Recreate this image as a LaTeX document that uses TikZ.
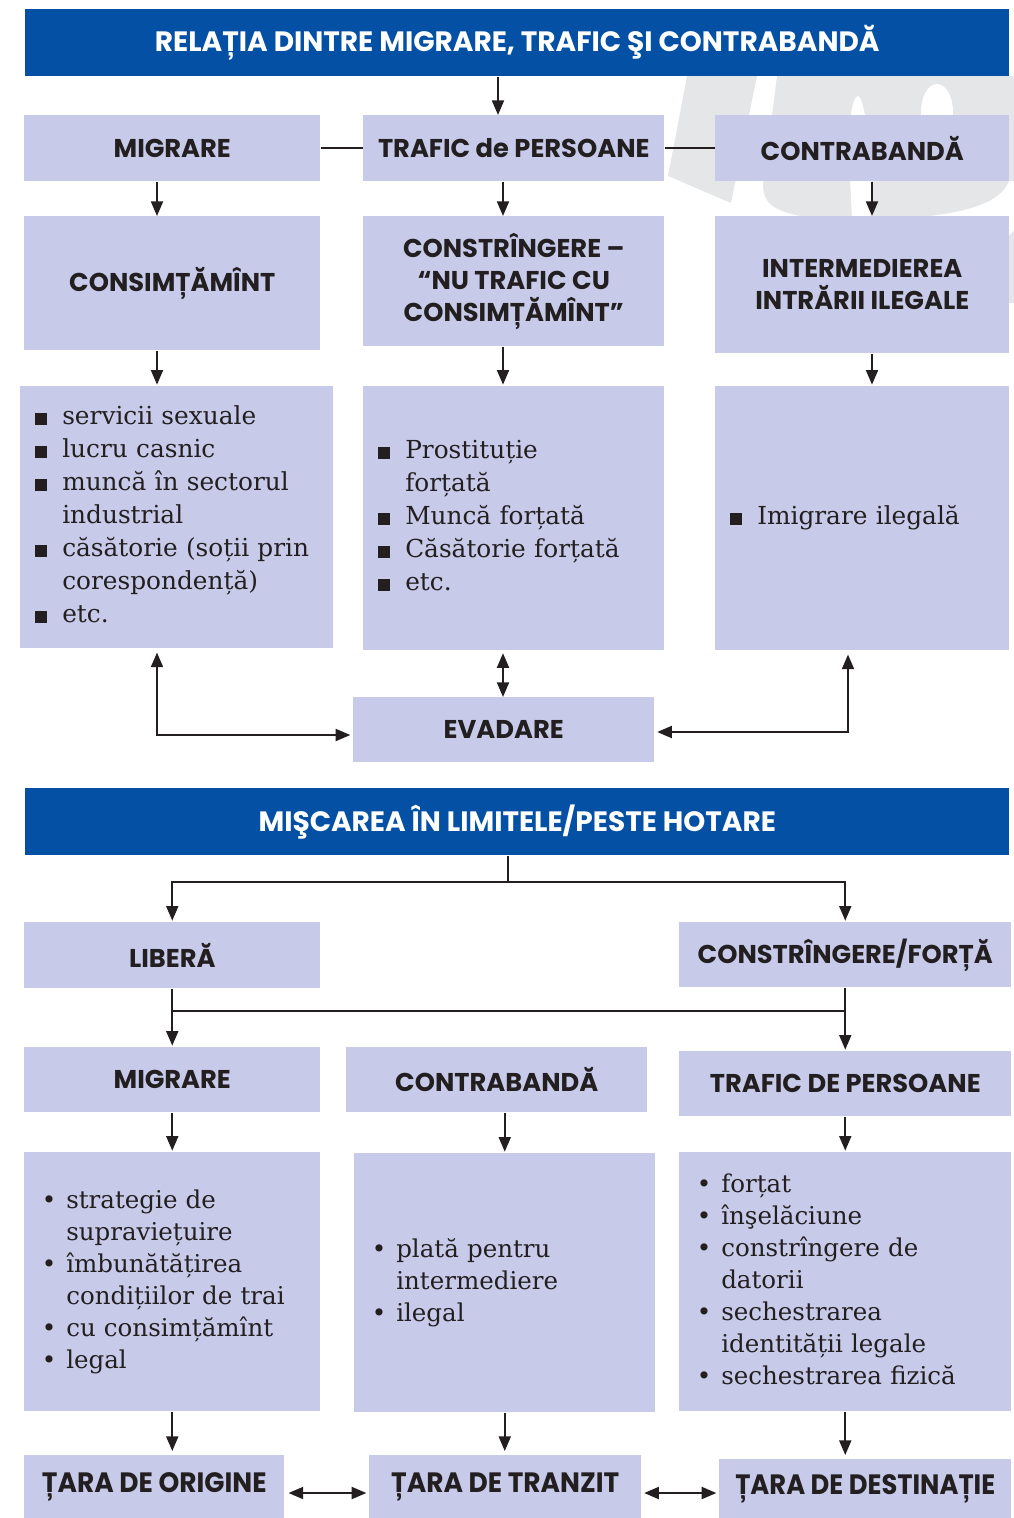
\documentclass[tikz,border=0pt]{standalone}
\usepackage{fontspec}
\usetikzlibrary{arrows.meta,calc}
\newfontfamily\hdfont{Poppins}
\newfontfamily\bodyfont{DejaVu Serif}
\definecolor{boxfill}{RGB}{199,203,233}
\definecolor{barblue}{RGB}{4,80,164}
\definecolor{ink}{RGB}{35,31,32}
\definecolor{wmgrey}{RGB}{229,230,232}
\newcommand\bx[7]{%
  \pgfmathsetmacro\bw{(#4-#2)*0.75}\pgfmathsetmacro\bh{(#5-#3)*0.75}%
  \node[#6, anchor=north west, minimum width=\bw pt, minimum height=\bh pt] (#1) at (#2,#3) {#7};}
\newcommand\sqb{\rule{9pt}{9pt}}
\newcommand\rb{\hspace*{-2.5pt}\textbullet}
\begin{document}
\begin{tikzpicture}[x=0.75pt,y=-0.75pt,
  box/.style={fill=boxfill, inner sep=0pt, text=ink, align=center,
    font=\hdfont\bfseries\fontsize{19.3}{24}\selectfont},
  bar/.style={fill=barblue, inner sep=0pt, text=white, align=center,
    font=\hdfont\bfseries\fontsize{21}{24}\selectfont},
  cbox/.style={box, font=\hdfont\bfseries\fontsize{21}{24}\selectfont},
  blt/.style={fill=boxfill, inner ysep=0pt, inner xsep=11.25pt, text=ink, align=left,
    font=\bodyfont\fontsize{18.6}{24.75}\selectfont},
  bltb/.style={fill=boxfill, inner ysep=0pt, inner xsep=15.75pt, text=ink, align=left,
    font=\bodyfont\fontsize{18.4}{24}\selectfont},
  ln/.style={draw=ink, line width=1.5pt},
  arr/.style={ln, -{Triangle[length=11pt,width=9pt]}},
  darr/.style={ln, {Triangle[length=11pt,width=9pt]}-{Triangle[length=11pt,width=9pt]}},
  wm/.style={fill=wmgrey}]
\useasboundingbox (0,0) rectangle (1014,1518);
% watermark
\fill[wm] (687,76) -- (757,76) -- (731,203) -- (668,176) -- cycle;
\fill[wm] (777,76) -- (1014,76) -- (1014,181) -- (1009,181)
  .. controls (1000,205) and (960,212) .. (930,216) -- (800,216)
  .. controls (770,210) and (763,200) .. (763,185) -- cycle;
\fill[wm] (1009,236) -- (1014,230) -- (1014,303) -- (1009,303) -- cycle;
\fill[white] (852,216) .. controls (848,150) and (848,100) .. (858,96)
  .. controls (866,100) and (870,150) .. (873,216) -- cycle;
\fill[white] (937,112) ellipse (16 and 28);
% coordinates
\coordinate (xa) at (157,0);
\coordinate (xb) at (503,0);
\coordinate (xc) at (872,0);
\coordinate (xt) at (498,0);
\coordinate (xr) at (848,0);
\coordinate (yl) at (0,735);
\coordinate (yr) at (0,732);
\coordinate (j1) at (508,882);
\coordinate (y2) at (0,1011);
\coordinate (yb) at (0,1493);
% top part
\bx{t1}{25}{9}{1009}{76}{bar}{RELAȚIA DINTRE MIGRARE, TRAFIC ŞI CONTRABANDĂ}
\bx{m1}{24}{115}{320}{181}{box}{MIGRARE}
\bx{tr1}{363}{115}{664}{181}{box}{TRAFIC de PERSOANE}
\bx{c1}{715}{115}{1009}{181}{box}{CONTRABANDĂ}
\bx{cs1}{24}{216}{320}{350}{box}{CONSIMȚĂMÎNT}
\bx{cg1}{363}{216}{664}{346}{box}{CONSTRÎNGERE –\\“NU TRAFIC CU\\CONSIMȚĂMÎNT”}
\bx{im1}{715}{216}{1009}{353}{box}{INTERMEDIEREA\\INTRĂRII ILEGALE}
\bx{b1}{20}{386}{333}{648}{blt, text width=212.25pt}{%
\begin{tabular}{@{}p{20.25pt}@{}l@{}}
\sqb & servicii sexuale\\
\sqb & lucru casnic\\
\sqb & muncă în sectorul\\
 & industrial\\
\sqb & căsătorie (soții prin\\
 & corespondență)\\
\sqb & etc.
\end{tabular}}
\bx{b2}{363}{386}{664}{650}{blt, text width=203.25pt}{%
\begin{tabular}{@{}p{20.25pt}@{}l@{}}
\sqb & Prostituție\\
 & forțată\\
\sqb & Muncă forțată\\
\sqb & Căsătorie forțată\\
\sqb & etc.
\end{tabular}}
\bx{b3}{715}{386}{1009}{650}{blt, text width=198pt}{%
\begin{tabular}{@{}p{20.25pt}@{}l@{}}
\sqb & Imigrare ilegală
\end{tabular}}
\bx{ev}{353}{697}{654}{762}{box}{EVADARE}
% bottom part
\bx{t2}{25}{788}{1009}{855}{bar}{MIŞCAREA ÎN LIMITELE/PESTE HOTARE}
\bx{lib}{24}{922}{320}{988}{box}{LIBERĂ}
\bx{cf}{679}{922}{1011}{987}{box}{CONSTRÎNGERE/FORȚĂ}
\bx{m2}{24}{1047}{320}{1112}{box}{MIGRARE}
\bx{c2}{346}{1047}{647}{1112}{box}{CONTRABANDĂ}
\bx{tr2}{679}{1051}{1011}{1116}{box}{TRAFIC DE PERSOANE}
\bx{b4}{24}{1152}{320}{1411}{bltb, text width=190.5pt}{%
\begin{tabular}{@{}p{15.75pt}@{}l@{}}
\rb & strategie de\\
 & supraviețuire\\
\rb & îmbunătățirea\\
 & condițiilor de trai\\
\rb & cu consimțămînt\\
\rb & legal
\end{tabular}}
\bx{b5}{354}{1153}{655}{1412}{bltb, text width=194.25pt}{%
\begin{tabular}{@{}p{15.75pt}@{}l@{}}
\rb & plată pentru\\
 & intermediere\\
\rb & ilegal
\end{tabular}}
\bx{b6}{679}{1152}{1011}{1411}{bltb, text width=217.5pt}{%
\begin{tabular}{@{}p{15.75pt}@{}l@{}}
\rb & forțat\\
\rb & înşelăciune\\
\rb & constrîngere de\\
 & datorii\\
\rb & sechestrarea\\
 & identității legale\\
\rb & sechestrarea fizică
\end{tabular}}
\bx{o}{24}{1455}{284}{1518}{cbox}{\scalebox{0.945}[1]{ȚARA DE ORIGINE}}
\bx{tz}{369}{1455}{641}{1518}{cbox}{\scalebox{0.945}[1]{ȚARA DE TRANZIT}}
\bx{d}{719}{1459}{1011}{1518}{cbox}{\scalebox{0.92}[1]{ȚARA DE DESTINAȚIE}}
% connectors top
\draw[arr] (t1.south -| xt) -- (tr1.north -| xt);
\draw[ln] (m1.east) -- (tr1.west);
\draw[ln] (tr1.east) -- (c1.west);
\draw[arr] (m1.south -| xa) -- (cs1.north -| xa);
\draw[arr] (tr1.south -| xb) -- (cg1.north -| xb);
\draw[arr] (c1.south -| xc) -- (im1.north -| xc);
\draw[arr] (cs1.south -| xa) -- ([yshift=1pt]b1.north -| xa);
\draw[arr] (cg1.south -| xb) -- ([yshift=1pt]b2.north -| xb);
\draw[arr] (im1.south -| xc) -- ([yshift=1pt]b3.north -| xc);
\draw[darr, shorten <=2pt] (b2.south -| xb) -- (ev.north -| xb);
\draw[darr, shorten <=3pt, shorten >=2pt] (b1.south -| xa) |- (ev.west |- yl);
\draw[darr, shorten <=3pt, shorten >=2pt] (b3.south -| xr) |- (ev.east |- yr);
% connectors bottom
\draw[ln] (t2.south -| j1) -- (j1);
\draw[arr, shorten >=1pt] (j1) -| (lib.north);
\draw[arr, shorten >=1pt] (j1) -| (cf.north);
\draw[arr, shorten >=1pt] (lib.south) -- (m2.north);
\draw[arr, shorten >=1pt] (cf.south) -- (tr2.north);
\draw[ln] (lib.south |- y2) -- (cf.south |- y2);
\draw[arr, shorten >=1pt] (m2.south) -- (b4.north -| m2.south);
\draw[arr, shorten >=1pt] (c2.south -| b5.north) -- (b5.north);
\draw[arr, shorten >=1pt] (tr2.south) -- (b6.north -| tr2.south);
\draw[arr, shorten >=3pt] (b4.south) -- (o.north -| b4.south);
\draw[arr, shorten >=3pt] (b5.south) -- (tz.north -| b5.south);
\draw[arr, shorten >=3pt] (b6.south) -- (d.north -| b6.south);
\draw[darr, shorten <=3pt, shorten >=2pt] (o.east |- yb) -- (tz.west |- yb);
\draw[darr, shorten <=2pt, shorten >=2pt] (tz.east |- yb) -- (d.west |- yb);
\end{tikzpicture}
\end{document}
